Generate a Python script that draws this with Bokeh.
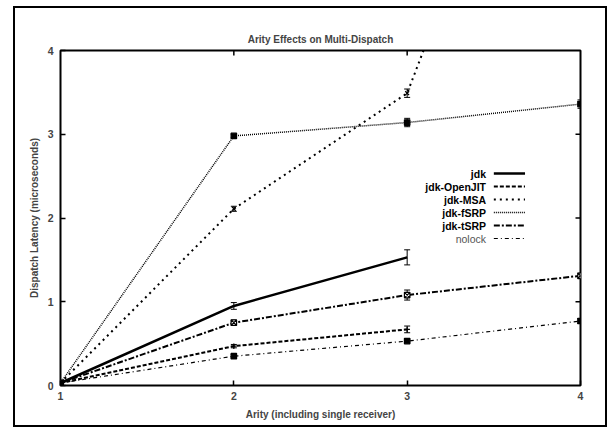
import math
from bokeh.plotting import figure
from bokeh.models import FixedTicker, Whisker, ColumnDataSource, Range1d
from bokeh.embed import file_html
from bokeh.resources import INLINE
from bokeh.core.properties import value

# ---- data ----
arity = [1, 2, 3, 4]
jdk = [0.03, 0.95, 1.53]
jdk_err = [0.02, 0.04, 0.09]
openjit = [0.03, 0.47, 0.67]
openjit_err = [0.02, 0.02, 0.04]
msa = [0.03, 2.11, 3.49, 8.9]
msa_err = [0.02, 0.03, 0.05, 0.10]
fsrp = [0.03, 2.98, 3.14, 3.36]
fsrp_err = [0.02, 0.02, 0.05, 0.05]
tsrp = [0.03, 0.75, 1.08, 1.31]
tsrp_err = [0.02, 0.03, 0.06, 0.03]
nolock = [0.03, 0.35, 0.53, 0.77]
nolock_err = [0.01, 0.02, 0.02, 0.03]

labels = ["jdk", "jdk-OpenJIT", "jdk-MSA", "jdk-fSRP", "jdk-tSRP", "nolock"]
x_ticks = [1, 2, 3, 4]
y_ticks = [0, 1, 2, 3, 4]

FONT = "Liberation Sans"

p = figure(frame_width=520, frame_height=335, output_backend="svg",
           toolbar_location=None, x_range=Range1d(1, 4), y_range=Range1d(0, 4),
           min_border_left=45, min_border_right=25, min_border_top=42,
           min_border_bottom=40, title="Arity Effects on Multi-Dispatch")
p.margin = (6, 0, 0, 13)
p.styles = {"border": "2px solid black"}
p.grid.visible = False
p.outline_line_color = "black"
p.outline_line_width = 2
p.background_fill_color = "white"
p.border_fill_color = "white"

p.title.align = "center"
p.title.text_font = FONT
p.title.text_font_size = "10px"
p.title.text_font_style = "bold"
p.title.standoff = 12

def style_axis(ax, ticks):
    ax.ticker = FixedTicker(ticks=ticks)
    ax.axis_line_color = None
    ax.major_tick_in = 5
    ax.major_tick_out = 0
    ax.major_tick_line_width = 1.5
    ax.minor_tick_line_color = None
    ax.major_label_text_font = FONT
    ax.major_label_text_font_size = "10.5px"
    ax.major_label_text_font_style = "bold"
    ax.axis_label_text_font = FONT
    ax.axis_label_text_font_size = "10px"
    ax.axis_label_text_font_style = "bold"

style_axis(p.xaxis[0], x_ticks)
style_axis(p.yaxis[0], y_ticks)
p.xaxis[0].axis_label = "Arity (including single receiver)"
p.yaxis[0].axis_label = "Dispatch Latency (microseconds)"
p.xaxis[0].major_label_standoff = 6
p.yaxis[0].major_label_standoff = 7
p.xaxis[0].axis_label_standoff = 6
p.yaxis[0].axis_label_standoff = 5

# mirrored inward ticks on top and right edges
p.scatter(x=x_ticks[1:-1], y=[y_ticks[-1]] * (len(x_ticks) - 2), marker="dash",
          size=10, angle=math.pi / 2, line_color="black", line_width=1.5)
p.scatter(x=[x_ticks[-1]] * (len(y_ticks) - 2), y=y_ticks[1:-1], marker="dash",
          size=10, line_color="black", line_width=1.5)

series = [
    (jdk, jdk_err, dict(line_width=2.5, line_dash="solid"), None),
    (openjit, openjit_err, dict(line_width=2, line_dash="4 2"), "cross"),
    (msa, msa_err, dict(line_width=2, line_dash="2 4"), "x"),
    (fsrp, fsrp_err, dict(line_width=1.5, line_dash="1 1"), "square"),
    (tsrp, tsrp_err, dict(line_width=2, line_dash="6 2 2 2"), "square_x"),
    (nolock, nolock_err, dict(line_width=1.2, line_dash="4 3 1 3"), "square"),
]

for ys, errs, st, mk in series:
    xs = arity[:len(ys)]
    src = ColumnDataSource(dict(x=xs, y=ys,
                                lo=[a - b for a, b in zip(ys, errs)],
                                hi=[a + b for a, b in zip(ys, errs)]))
    p.line("x", "y", source=src, line_color="black", line_width=st["line_width"],
           line_dash=st["line_dash"])
    w = Whisker(source=src, base="x", lower="lo", upper="hi", line_color="black",
                line_width=1)
    w.upper_head.size = 6
    w.lower_head.size = 6
    p.add_layout(w)
    if mk:
        fill = "white" if mk == "square_x" else "black"
        p.scatter("x", "y", source=src, marker=mk, size=5.5, line_color="black",
                  fill_color=fill, line_width=1.2)

# ---- legend (gnuplot style: label right-aligned, sample to the right) ----
leg_text_x = 3.455
leg_x0, leg_x1 = 3.50, 3.68
leg_y0, leg_dy = 2.53, 0.155
for i, (lab, (_, _, st, _)) in enumerate(zip(labels, series)):
    yy = leg_y0 - i * leg_dy
    col = "#555555" if lab == "nolock" else "black"
    p.text(x=[leg_text_x], y=[yy], text=[lab], text_align="right",
           text_baseline="middle", text_font=value(FONT), text_font_size="10.5px",
           text_font_style="normal" if lab == "nolock" else "bold", text_color=col)
    p.segment(x0=[leg_x0], y0=[yy], x1=[leg_x1], y1=[yy], line_color="black",
              line_width=st["line_width"], line_dash=st["line_dash"])

open("out.html", "w").write(file_html(p, INLINE))
